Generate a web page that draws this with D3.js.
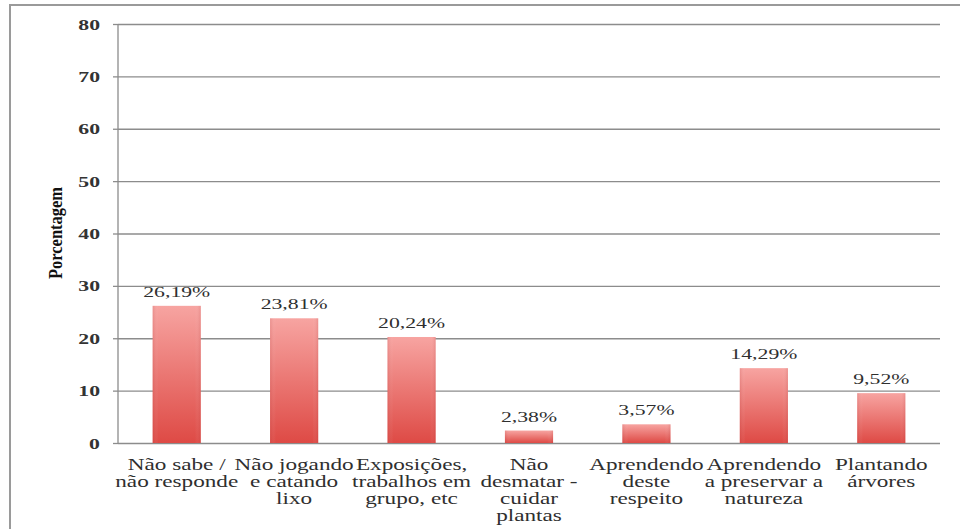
<!DOCTYPE html>
<html>
<head>
<meta charset="utf-8">
<script src="https://cdn.jsdelivr.net/npm/d3@7"></script>
<style>
  html, body { margin: 0; padding: 0; background: #fff; }
  svg { display: block; }
</style>
</head>
<body>
<svg id="chart" width="960" height="529"></svg>
<script>
// Respostas (percentual de alunos) por categoria
const categories = [
  ["Não sabe /", "não responde"],
  ["Não jogando", "e catando", "lixo"],
  ["Exposições,", "trabalhos em", "grupo, etc"],
  ["Não", "desmatar -", "cuidar", "plantas"],
  ["Aprendendo", "deste", "respeito"],
  ["Aprendendo", "a preservar a", "natureza"],
  ["Plantando", "árvores"]
];
const values = [26.19, 23.81, 20.24, 2.38, 3.57, 14.29, 9.52];
const valueLabels = ["26,19%", "23,81%", "20,24%", "2,38%", "3,57%", "14,29%", "9,52%"];
const yTicks = [0, 10, 20, 30, 40, 50, 60, 70, 80];
const yTitle = "Porcentagem";

const FONT = "'Liberation Serif', 'DejaVu Serif', serif";
const svg = d3.select("#chart");
const plot = { left: 118, right: 940, top: 24, bottom: 443 };
const sx = 1.45; // wide glyphs

// outer frame
svg.append("rect")
  .attr("x", 10).attr("y", 5).attr("width", 970).attr("height", 600)
  .attr("fill", "none").attr("stroke", "#9a9a9a").attr("stroke-width", 2);

const x = d3.scaleBand()
  .domain(d3.range(categories.length))
  .range([plot.left, plot.right])
  .paddingInner(0.59).paddingOuter(0.295);

const y = d3.scaleLinear().domain([0, 80]).range([plot.bottom, plot.top]);

// gradient for bars
const defs = svg.append("defs");
const grad = defs.append("linearGradient").attr("id", "barGrad")
  .attr("x1", 0).attr("y1", 0).attr("x2", 0).attr("y2", 1);
grad.append("stop").attr("offset", "0%").attr("stop-color", "#f7a4a1");
grad.append("stop").attr("offset", "100%").attr("stop-color", "#de4a45");
const gradH = defs.append("linearGradient").attr("id", "barEdge")
  .attr("x1", 0).attr("y1", 0).attr("x2", 1).attr("y2", 0);
gradH.append("stop").attr("offset", "0%").attr("stop-color", "#b03030").attr("stop-opacity", 0.18);
gradH.append("stop").attr("offset", "12%").attr("stop-color", "#ffffff").attr("stop-opacity", 0.0);
gradH.append("stop").attr("offset", "88%").attr("stop-color", "#ffffff").attr("stop-opacity", 0.0);
gradH.append("stop").attr("offset", "100%").attr("stop-color", "#b03030").attr("stop-opacity", 0.18);

// y axis with gridlines
const yAxis = d3.axisLeft(y).tickValues(yTicks)
  .tickSize(-(plot.right - plot.left)).tickPadding(0).tickFormat("");
const gy = svg.append("g").attr("transform", `translate(${plot.left},0)`).call(yAxis);
gy.attr("font-family", FONT);
gy.select(".domain").remove();
gy.selectAll(".tick line").attr("stroke", "#8c8c8c").attr("stroke-width", 1.3);
// small outer tick marks
gy.selectAll(".tick").append("line")
  .attr("x1", -5).attr("x2", 0).attr("stroke", "#8c8c8c").attr("stroke-width", 1.3);
gy.selectAll(".tick").append("text")
  .attr("transform", `translate(-18,5) scale(${sx},1)`)
  .attr("text-anchor", "end")
  .style("font-family", FONT)
  .style("font-size", "15px").style("font-weight", "bold").style("fill", "#333")
  .text(d => d);

// vertical axis line
svg.append("line")
  .attr("x1", plot.left).attr("x2", plot.left)
  .attr("y1", plot.top).attr("y2", plot.bottom)
  .attr("stroke", "#8c8c8c").attr("stroke-width", 1.3);

// bars
const bars = svg.append("g").selectAll("g").data(values).join("g");
bars.append("rect")
  .attr("x", (d, i) => x(i)).attr("width", x.bandwidth())
  .attr("y", d => y(d)).attr("height", d => y(0) - y(d))
  .attr("fill", "url(#barGrad)");
bars.append("rect")
  .attr("x", (d, i) => x(i)).attr("width", x.bandwidth())
  .attr("y", d => y(d)).attr("height", d => y(0) - y(d))
  .attr("fill", "url(#barEdge)");

// value labels
svg.append("g").selectAll("text").data(values).join("text")
  .attr("transform", (d, i) => `translate(${x(i) + x.bandwidth() / 2},${y(d) - 9}) scale(${sx},1)`)
  .attr("text-anchor", "middle")
  .style("font-family", FONT)
  .style("font-size", "15px").style("fill", "#2f2f2f")
  .text((d, i) => valueLabels[i]);

// category labels
const cat = svg.append("g").selectAll("g").data(categories).join("g")
  .attr("transform", (d, i) => `translate(${x(i) + x.bandwidth() / 2},0)`);
cat.selectAll("text").data(d => d).join("text")
  .attr("transform", (d, j) => `translate(0,${470 + j * 17}) scale(1.45,1)`)
  .attr("text-anchor", "middle")
  .style("font-family", FONT)
  .style("font-size", "16px").style("fill", "#2f2f2f")
  .text(d => d);

// y axis title
svg.append("text")
  .attr("transform", `translate(62,233) rotate(-90) scale(1.1,1.3)`)
  .attr("text-anchor", "middle")
  .style("font-family", FONT)
  .style("font-size", "15px").style("font-weight", "bold").style("fill", "#111")
  .text(yTitle);
</script>
</body>
</html>
